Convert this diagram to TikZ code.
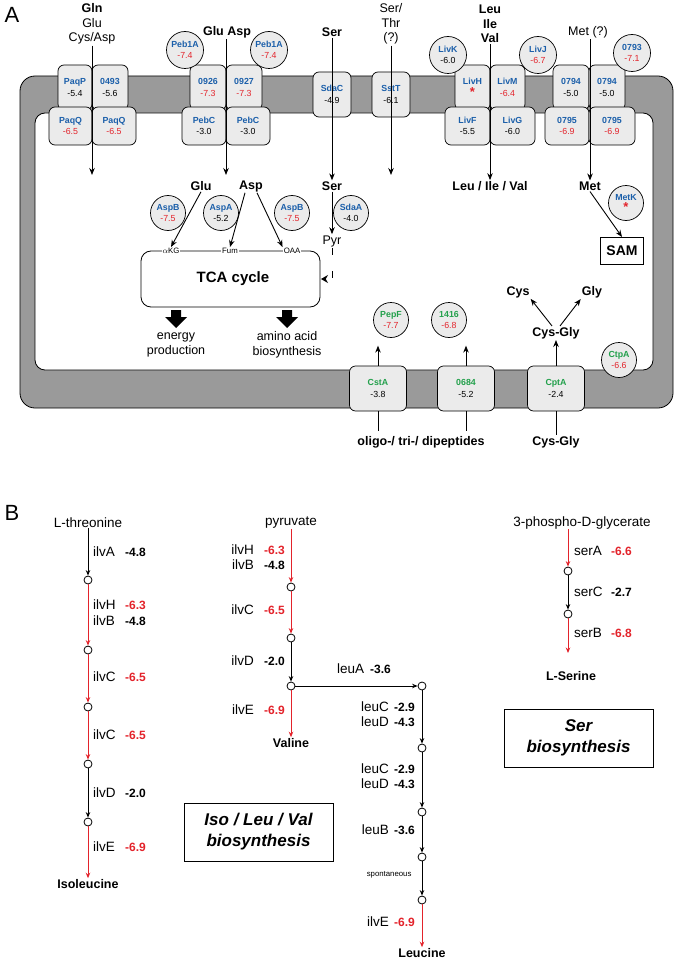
\documentclass[tikz,border=0pt]{standalone}
\usepackage{fontspec}
\setmainfont{Liberation Sans}
\usetikzlibrary{arrows.meta}

\definecolor{protblue}{HTML}{1B5FAA}
\definecolor{valred}{HTML}{E3232B}
\definecolor{protgreen}{HTML}{22A04B}
\definecolor{membgray}{HTML}{9A9A9A}
\definecolor{boxgray}{HTML}{EBEBEB}

\newcommand\szL{\fontsize{12.5}{14.5}\selectfont}
\newcommand\szS{\fontsize{8.8}{11.5}\selectfont}
\newcommand\szT{\fontsize{7.8}{9}\selectfont}
\newcommand\pr[4]{\textcolor{#1}{\bfseries #2}\\\textcolor{#4}{#3}}
\newcommand\redast{\textcolor{valred}{\bfseries\fontsize{13}{11}\selectfont *}}

\tikzset{
  tbox/.style={draw, fill=boxgray, rounded corners=6pt, line width=0.7pt, align=center, inner sep=0pt, font=\szS},
  circ/.style={draw, fill=boxgray, circle, line width=0.7pt, align=center, inner sep=0pt, minimum size=#1, font=\szS},
  circ/.default=37pt,
  arr/.style={line width=0.9pt, -{Stealth[length=7pt,width=5.5pt]}},
  parr/.style={line width=1pt, -{Stealth[length=5.5pt,width=4.5pt]}},
  lbl/.style={font=\szL\bfseries, align=center, inner sep=1pt},
  met/.style={draw, circle, line width=0.8pt, minimum size=8pt, inner sep=0pt, fill=white},
  nm/.style={font=\fontsize{13.5}{15}\selectfont, inner sep=0pt},
  val/.style={font=\fontsize{12}{13}\selectfont\bfseries, inner sep=0pt}
}

\begin{document}
\begin{tikzpicture}[x=1pt, y=-1pt]
    \useasboundingbox (0,0) rectangle (676,960);

    % panel A: membrane
    \filldraw[fill=membgray, line width=0.8pt, rounded corners=15pt](20,76) rectangle (673,408);
    \filldraw[fill=white, line width=0.8pt, rounded corners=10pt](35,113) rectangle (653,370);
    \node[font=\fontsize{22}{22}\selectfont] (A) at (12,15) {A};

    % transporters
    \node[tbox, minimum width=34pt, minimum height=45pt] (paqP) at (75,87.5) {\pr{protblue}{PaqP}{-5.4}{black}};
    \node[tbox, minimum width=36pt, minimum height=45pt] (c0493) at (110,87.5) {\pr{protblue}{0493}{-5.6}{black}};
    \node[tbox, minimum width=43pt, minimum height=38pt] (paqQa) at (70.5,126) {\pr{protblue}{PaqQ}{-6.5}{valred}};
    \node[tbox, minimum width=44pt, minimum height=38pt] (paqQb) at (114,126) {\pr{protblue}{PaqQ}{-6.5}{valred}};

    \node[tbox, minimum width=36pt, minimum height=45pt] (c0926) at (208,87.5) {\pr{protblue}{0926}{-7.3}{valred}};
    \node[tbox, minimum width=36pt, minimum height=45pt] (c0927) at (244,87.5) {\pr{protblue}{0927}{-7.3}{valred}};
    \node[tbox, minimum width=44pt, minimum height=38pt] (pebCa) at (204,126) {\pr{protblue}{PebC}{-3.0}{black}};
    \node[tbox, minimum width=44pt, minimum height=38pt] (pebCb) at (248,126) {\pr{protblue}{PebC}{-3.0}{black}};
    \node[circ] (peb1Aa) at (185,50) {\pr{protblue}{Peb1A}{-7.4}{valred}};
    \node[circ] (peb1Ab) at (269,50) {\pr{protblue}{Peb1A}{-7.4}{valred}};

    \node[tbox, minimum width=38pt, minimum height=45pt] (sdaC) at (332,94.5) {\pr{protblue}{SdaC}{-4.9}{black}};
    \node[tbox, minimum width=38pt, minimum height=45pt] (sstT) at (391,94.5) {\pr{protblue}{SstT}{-6.1}{black}};

    \node[tbox, minimum width=35pt, minimum height=45pt] (livH) at (472.5,87.5) {\textcolor{protblue}{\bfseries LivH}\\\redast};
    \node[tbox, minimum width=35pt, minimum height=45pt] (livM) at (507.5,87.5) {\pr{protblue}{LivM}{-6.4}{valred}};
    \node[tbox, minimum width=45pt, minimum height=38pt] (livF) at (467.5,126) {\pr{protblue}{LivF}{-5.5}{black}};
    \node[tbox, minimum width=45pt, minimum height=38pt] (livG) at (512.5,126) {\pr{protblue}{LivG}{-6.0}{black}};
    \node[circ] (livK) at (448,55) {\pr{protblue}{LivK}{-6.0}{black}};
    \node[circ] (livJ) at (538,55) {\pr{protblue}{LivJ}{-6.7}{valred}};

    \node[tbox, minimum width=36pt, minimum height=45pt] (c0794a) at (571,87.5) {\pr{protblue}{0794}{-5.0}{black}};
    \node[tbox, minimum width=36pt, minimum height=45pt] (c0794b) at (607,87.5) {\pr{protblue}{0794}{-5.0}{black}};
    \node[tbox, minimum width=44pt, minimum height=38pt] (c0795a) at (567,126) {\pr{protblue}{0795}{-6.9}{valred}};
    \node[tbox, minimum width=46pt, minimum height=38pt] (c0795b) at (612,126) {\pr{protblue}{0795}{-6.9}{valred}};
    \node[circ] (c0793) at (632,53) {\pr{protblue}{0793}{-7.1}{valred}};

    \node[tbox, minimum width=57pt, minimum height=45pt] (cstA) at (378,388.5) {\pr{protgreen}{CstA}{-3.8}{black}};
    \node[tbox, minimum width=57pt, minimum height=45pt] (c0684) at (466,388.5) {\pr{protgreen}{0684}{-5.2}{black}};
    \node[tbox, minimum width=57pt, minimum height=45pt] (cptA) at (556,388.5) {\pr{protgreen}{CptA}{-2.4}{black}};

    % substrates outside
    \node[lbl] (gln) at (92,24) {Gln\\\mdseries Glu\\\mdseries Cys/Asp};
    \node[lbl] (gluasp) at (227,32) {Glu Asp};
    \node[lbl] (serOut) at (332,32) {Ser};
    \node[lbl, font=\szL] (serthr) at (391,24) {Ser/\\Thr\\(?)};
    \node[lbl] (leuOut) at (490,24) {Leu\\Ile\\Val};
    \node[lbl, font=\szL] (metOut) at (588,32) {Met (?)};
    \node[lbl] (pept) at (421,442) {oligo-/ tri-/ dipeptides};
    \node[lbl] (cysglyOut) at (556,442) {Cys-Gly};

    % inside
    \coordinate (glnIn) at (92,175);
    \coordinate (gluaspIn) at (226,175);
    \coordinate (serthrIn) at (391,175);
    \node[lbl] (serIn) at (332,186) {Ser};
    \node[lbl] (leuIn) at (490,186) {Leu / Ile / Val};
    \node[lbl] (metIn) at (590,186) {Met};
    \node[lbl] (glu) at (201,186) {Glu};
    \node[lbl] (asp) at (251,186) {Asp};
    \node[draw, line width=1pt, font=\fontsize{14}{14}\selectfont\bfseries, minimum width=43pt, minimum height=27pt, inner sep=2pt] (sam) at (622,251) {SAM};

    \filldraw[fill=white, line width=0.8pt, rounded corners=10pt](141,251) rectangle (320,307);
    \node[font=\fontsize{15}{15}\selectfont\bfseries] (tca) at (233,279) {TCA cycle};
    \node[font=\szT, fill=white, inner sep=1pt] (akg) at (171,251) {$\alpha$KG};
    \node[font=\szT, fill=white, inner sep=1pt] (fum) at (230,251) {Fum};
    \node[font=\szT, fill=white, inner sep=1pt] (oaa) at (292,251) {OAA};
    \node[font=\szL, inner sep=1pt] (pyr) at (332,241) {Pyr};

    \node[circ=35pt] (aspBa) at (168,213) {\pr{protblue}{AspB}{-7.5}{valred}};
    \node[circ=35pt] (aspA) at (221,213) {\pr{protblue}{AspA}{-5.2}{black}};
    \node[circ=35pt] (aspBb) at (292,213) {\pr{protblue}{AspB}{-7.5}{valred}};
    \node[circ=35pt] (sdaA) at (351,213) {\pr{protblue}{SdaA}{-4.0}{black}};
    \node[circ=35pt] (metK) at (626,203) {\textcolor{protblue}{\bfseries MetK}\\\redast};
    \node[circ=35pt] (pepF) at (391,320) {\pr{protgreen}{PepF}{-7.7}{valred}};
    \node[circ=35pt] (c1416) at (449,320) {\pr{protgreen}{1416}{-6.8}{valred}};
    \node[circ=35pt] (ctpA) at (619,360) {\pr{protgreen}{CtpA}{-6.6}{valred}};

    \node[lbl] (cys) at (518,292) {Cys};
    \node[lbl] (gly) at (592,292) {Gly};
    \node[lbl] (cysgly) at (556,333) {Cys-Gly};

    \node[font=\szL, align=center] (energy) at (176,345) {energy\\production};
    \node[font=\szL, align=center] (aasyn) at (287,345) {amino acid\\biosynthesis};
    \foreach \x in {176,287}
        \fill (\x-5,310) -- (\x+5,310) -- (\x+5,317) -- (\x+11,317) -- (\x,328) -- (\x-11,317) -- (\x-5,317) -- cycle;

    % fluxes
    \draw[arr](gln.south) -- (glnIn);
    \draw[arr](gluasp.south -| gluaspIn) -- (gluaspIn);
    \draw[arr](serOut) -- (serIn);
    \draw[arr](serthr.south) -- (serthrIn);
    \draw[arr](leuOut.south) -- (leuIn);
    \draw[arr](metOut.south -| metIn) -- (metIn);
    \draw[arr](metIn.south) -- (sam.north);
    \draw[arr](glu.south) -- (akg.north);
    \draw[arr]([xshift=-6pt]asp.south) -- (fum.north);
    \draw[arr]([xshift=6pt]asp.south) -- (oaa.north west);
    \draw[arr](serIn.south) -- (pyr.north);
    \draw[line width=0.8pt, dash pattern=on 7pt off 16pt, -{Stealth[length=7pt,width=8pt]}](pyr.south) -- (332,279) -- (321,279);
    \draw[arr](cstA.north) -- ++(0,-20);
    \draw[arr](c0684.north) -- ++(0,-20);
    \draw[arr](cptA.north) -- (cysgly.south);
    \draw[arr]([xshift=-4pt]cysgly.north) -- (cys.south east);
    \draw[arr]([xshift=4pt]cysgly.north) -- (gly.south west);
    \draw[line width=0.9pt](cstA.south) -- ++(0,20);
    \draw[line width=0.9pt](c0684.south) -- ++(0,20);
    \draw[line width=0.9pt](cptA.south) -- (cysglyOut.north);

    % panel B
    \node[font=\fontsize{22}{22}\selectfont] (B) at (12,513) {B};
    \node[nm] (lthr) at (88,523) {L-threonine};
    \foreach \n/\y in {t1/580,t2/650,t3/707,t4/764,t5/822} \node[met] (\n) at (88,\y) {};
    \node[lbl] (ile) at (88,884) {Isoleucine};
    \draw[parr](lthr.south) -- (t1.north);
    \draw[parr, valred](t1) -- (t2);
    \draw[parr, valred](t2) -- (t3);
    \draw[parr, valred](t3) -- (t4);
    \draw[parr](t4) -- (t5);
    \draw[parr, valred](t5) -- (ile.north);
    \foreach \y/\g/\v/\c in {552/ilvA/-4.8/black,605/ilvH/-6.3/valred,621/ilvB/-4.8/black,677/ilvC/-6.5/valred,735/ilvC/-6.5/valred,793/ilvD/-2.0/black,847/ilvE/-6.9/valred}{
        \node[nm, anchor=west] at (93,\y) {\g};
        \node[val, anchor=west, text=\c] at (125,\y) {\v};
    }

    \node[nm] (pyrB) at (291,523) {pyruvate};
    \foreach \n/\y in {v1/587,v2/638,v3/686} \node[met] (\n) at (291,\y) {};
    \node[lbl] (valine) at (291,743) {Valine};
    \draw[parr, valred](pyrB.south) -- (v1.north);
    \draw[parr, valred](v1) -- (v2);
    \draw[parr](v2) -- (v3);
    \draw[parr, valred](v3) -- (valine.north);
    \foreach \y/\g/\v/\c in {550/ilvH/-6.3/valred,565/ilvB/-4.8/black,610/ilvC/-6.5/valred,661/ilvD/-2.0/black,710/ilvE/-6.9/valred}{
        \node[nm, anchor=east] at (254,\y) {\g};
        \node[val, anchor=west, text=\c] at (264,\y) {\v};
    }
    \node[draw, line width=0.8pt, minimum width=149pt, minimum height=58pt, align=center,
        font=\fontsize{17}{21}\selectfont\bfseries\itshape] (ilvBox) at (258.5,832) {Iso / Leu / Val\\biosynthesis};

    \foreach \n/\y in {l1/686,l2/748,l3/812,l4/857,l5/900} \node[met] (\n) at (422,\y) {};
    \node[lbl] (leucine) at (422,953) {Leucine};
    \draw[parr](v3) -- (l1);
    \node[nm, anchor=west] at (337,669) {leuA};
    \node[val, anchor=west] at (370,669) {-3.6};
    \draw[parr](l1) -- (l2);
    \draw[parr](l2) -- (l3);
    \draw[parr](l3) -- (l4);
    \draw[parr](l4) -- (l5);
    \draw[parr, valred](l5) -- (leucine.north);
    \foreach \y/\g/\v/\c in {707/leuC/-2.9/black,722/leuD/-4.3/black,769/leuC/-2.9/black,784/leuD/-4.3/black,830/leuB/-3.6/black,922/ilvE/-6.9/valred}{
        \node[nm, anchor=east] at (389,\y) {\g};
        \node[val, anchor=east, text=\c] at (415,\y) {\v};
    }
    \node[font=\szT, anchor=east] at (415,875) {spontaneous};

    \node[nm] (pgly) at (582,523) {3-phospho-D-glycerate};
    \foreach \n/\y in {s1/571,s2/614} \node[met] (\n) at (568,\y) {};
    \node[lbl] (lser) at (571,676) {L-Serine};
    \draw[parr, valred](pgly.south -| s1) -- (s1.north);
    \draw[parr](s1) -- (s2);
    \draw[parr, valred](s2) -- (568,653);
    \foreach \y/\g/\v/\c in {551/serA/-6.6/valred,592/serC/-2.7/black,633/serB/-6.8/valred}{
        \node[nm, anchor=west] at (574,\y) {\g};
        \node[val, anchor=west, text=\c] at (611,\y) {\v};
    }
    \node[draw, line width=0.8pt, minimum width=149pt, minimum height=58pt, align=center,
        font=\fontsize{17}{21}\selectfont\bfseries\itshape] (serBox) at (578.5,738) {Ser\\biosynthesis};
\end{tikzpicture}
\end{document}
